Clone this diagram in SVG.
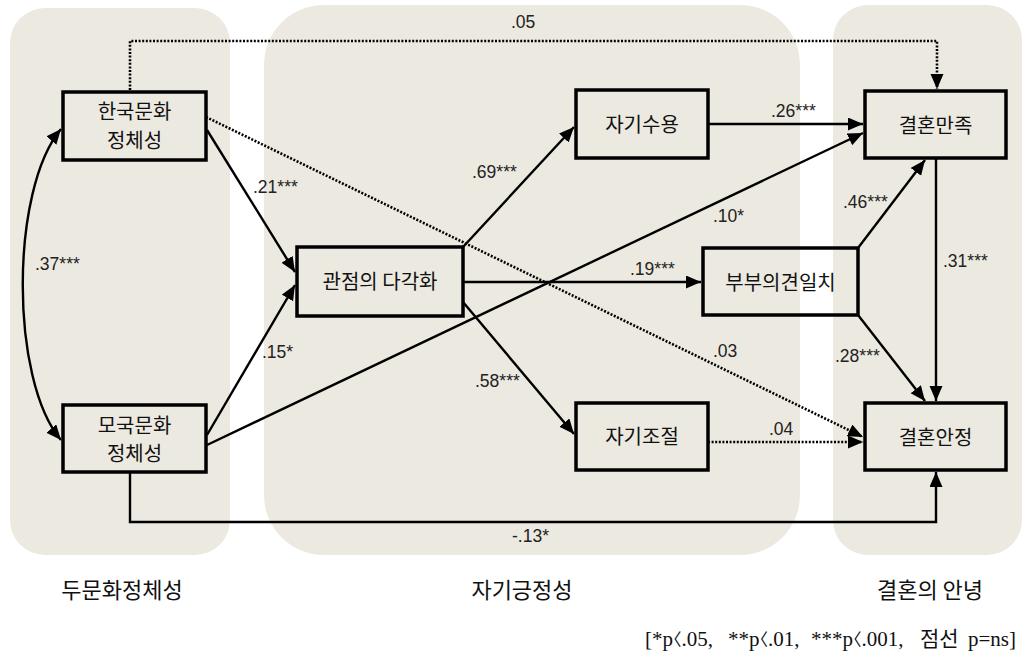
<svg xmlns="http://www.w3.org/2000/svg" width="1029" height="653" viewBox="0 0 1029 653">
<style>
.panel{fill:#ECE9E0;stroke:none}
.node rect{fill:none;stroke:#000;stroke-width:3.5}
.node text{font-family:"Noto Sans CJK KR","Noto Sans",sans-serif;font-size:20px;fill:#111;text-anchor:middle}
.sol{fill:none;stroke:#000;stroke-width:2.4;marker-end:url(#ah)}
.dot{fill:none;stroke:#000;stroke-width:2.6;stroke-dasharray:2 1.6;marker-end:url(#ah)}
.lbl{font-family:"Liberation Sans",Arial,sans-serif;font-size:17.5px;fill:#222}
.grp{font-family:"Noto Sans CJK KR","Noto Sans",sans-serif;font-size:22px;fill:#111;text-anchor:middle}
.note{font-family:"Liberation Serif","Noto Sans CJK KR",serif;font-size:21px;fill:#111}
.br{font-family:"Noto Sans CJK KR",sans-serif;font-size:17px;font-feature-settings:"halt"}
</style>
<defs>
<marker id="ah" markerUnits="userSpaceOnUse" markerWidth="16" markerHeight="14" refX="15" refY="6.5" orient="auto-start-reverse">
<path d="M0,0 L15,6.5 L0,13 z" fill="#000"/>
</marker>
</defs>
<g id="panels">
<rect class="panel" x="10" y="8" width="220" height="547" rx="35"/>
<rect class="panel" x="264" y="5" width="536" height="550" rx="60"/>
<rect class="panel" x="833" y="5" width="189" height="550" rx="35"/>
</g>
<g id="connectors">
<polyline class="dot" points="130,90 130,41 937,41 937,89"/>
<line class="dot" x1="206" y1="117" x2="863" y2="437"/>
<line class="sol" x1="207" y1="130" x2="295" y2="272"/>
<line class="sol" x1="207" y1="435" x2="295" y2="285"/>
<line class="sol" x1="207" y1="445" x2="863" y2="133"/>
<line class="sol" x1="463" y1="247" x2="574" y2="127"/>
<line class="sol" x1="463" y1="282" x2="701" y2="282"/>
<line class="sol" x1="463" y1="302" x2="574" y2="434"/>
<line class="sol" x1="708" y1="124" x2="863" y2="124"/>
<line class="dot" x1="708" y1="442" x2="863" y2="442"/>
<line class="sol" x1="858" y1="248" x2="925" y2="160"/>
<line class="sol" x1="858" y1="315" x2="925" y2="401"/>
<line class="sol" x1="936" y1="158" x2="936" y2="401"/>
<polyline class="sol" points="130,472 130,522 936,522 936,472"/>
<path class="sol" d="M61,129 C10,190 10,380 61,440" marker-start="url(#ah)"/>
</g>
<g id="labels">
<text class="lbl" x="511" y="28">.05</text>
<text class="lbl" x="253" y="193">.21***</text>
<text class="lbl" x="35" y="270">.37***</text>
<text class="lbl" x="262" y="358">.15*</text>
<text class="lbl" x="472" y="178">.69***</text>
<text class="lbl" x="713" y="222">.10*</text>
<text class="lbl" x="771" y="117">.26***</text>
<text class="lbl" x="843" y="208">.46***</text>
<text class="lbl" x="630" y="275">.19***</text>
<text class="lbl" x="943" y="267">.31***</text>
<text class="lbl" x="713" y="357">.03</text>
<text class="lbl" x="835" y="362">.28***</text>
<text class="lbl" x="475" y="387">.58***</text>
<text class="lbl" x="769" y="435">.04</text>
<text class="lbl" x="512" y="542">-.13*</text>
</g>
<g id="n1" class="node"><rect x="63" y="92" width="143" height="68"/><text x="134.5" y="119">한국문화</text><text x="134.5" y="148">정체성</text></g>
<g id="n2" class="node"><rect x="63" y="405" width="143" height="67"/><text x="134.5" y="433">모국문화</text><text x="134.5" y="461">정체성</text></g>
<g id="n3" class="node"><rect x="297" y="247" width="166" height="69"/><text x="380" y="289">관점의 다각화</text></g>
<g id="n4" class="node"><rect x="576" y="90" width="132" height="68"/><text x="642" y="132">자기수용</text></g>
<g id="n5" class="node"><rect x="576" y="403" width="132" height="67"/><text x="642" y="444">자기조절</text></g>
<g id="n6" class="node"><rect x="703" y="248" width="155" height="67"/><text x="780.5" y="290">부부의견일치</text></g>
<g id="n7" class="node"><rect x="865" y="91" width="141" height="67"/><text x="935.5" y="133">결혼만족</text></g>
<g id="n8" class="node"><rect x="865" y="403" width="141" height="67"/><text x="935.5" y="445">결혼안정</text></g>
<g id="groups">
<text class="grp" x="122" y="598">두문화정체성</text>
<text class="grp" x="522" y="598">자기긍정성</text>
<text class="grp" x="930" y="598">결혼의 안녕</text>
</g>
<text class="note" y="646"><tspan x="645">[*p</tspan><tspan class="br">〈</tspan><tspan>.05,</tspan><tspan x="728">**p</tspan><tspan class="br">〈</tspan><tspan>.01,</tspan><tspan x="811">***p</tspan><tspan class="br">〈</tspan><tspan>.001,</tspan><tspan x="920">점선</tspan><tspan x="968">p=ns]</tspan></text>
</svg>
